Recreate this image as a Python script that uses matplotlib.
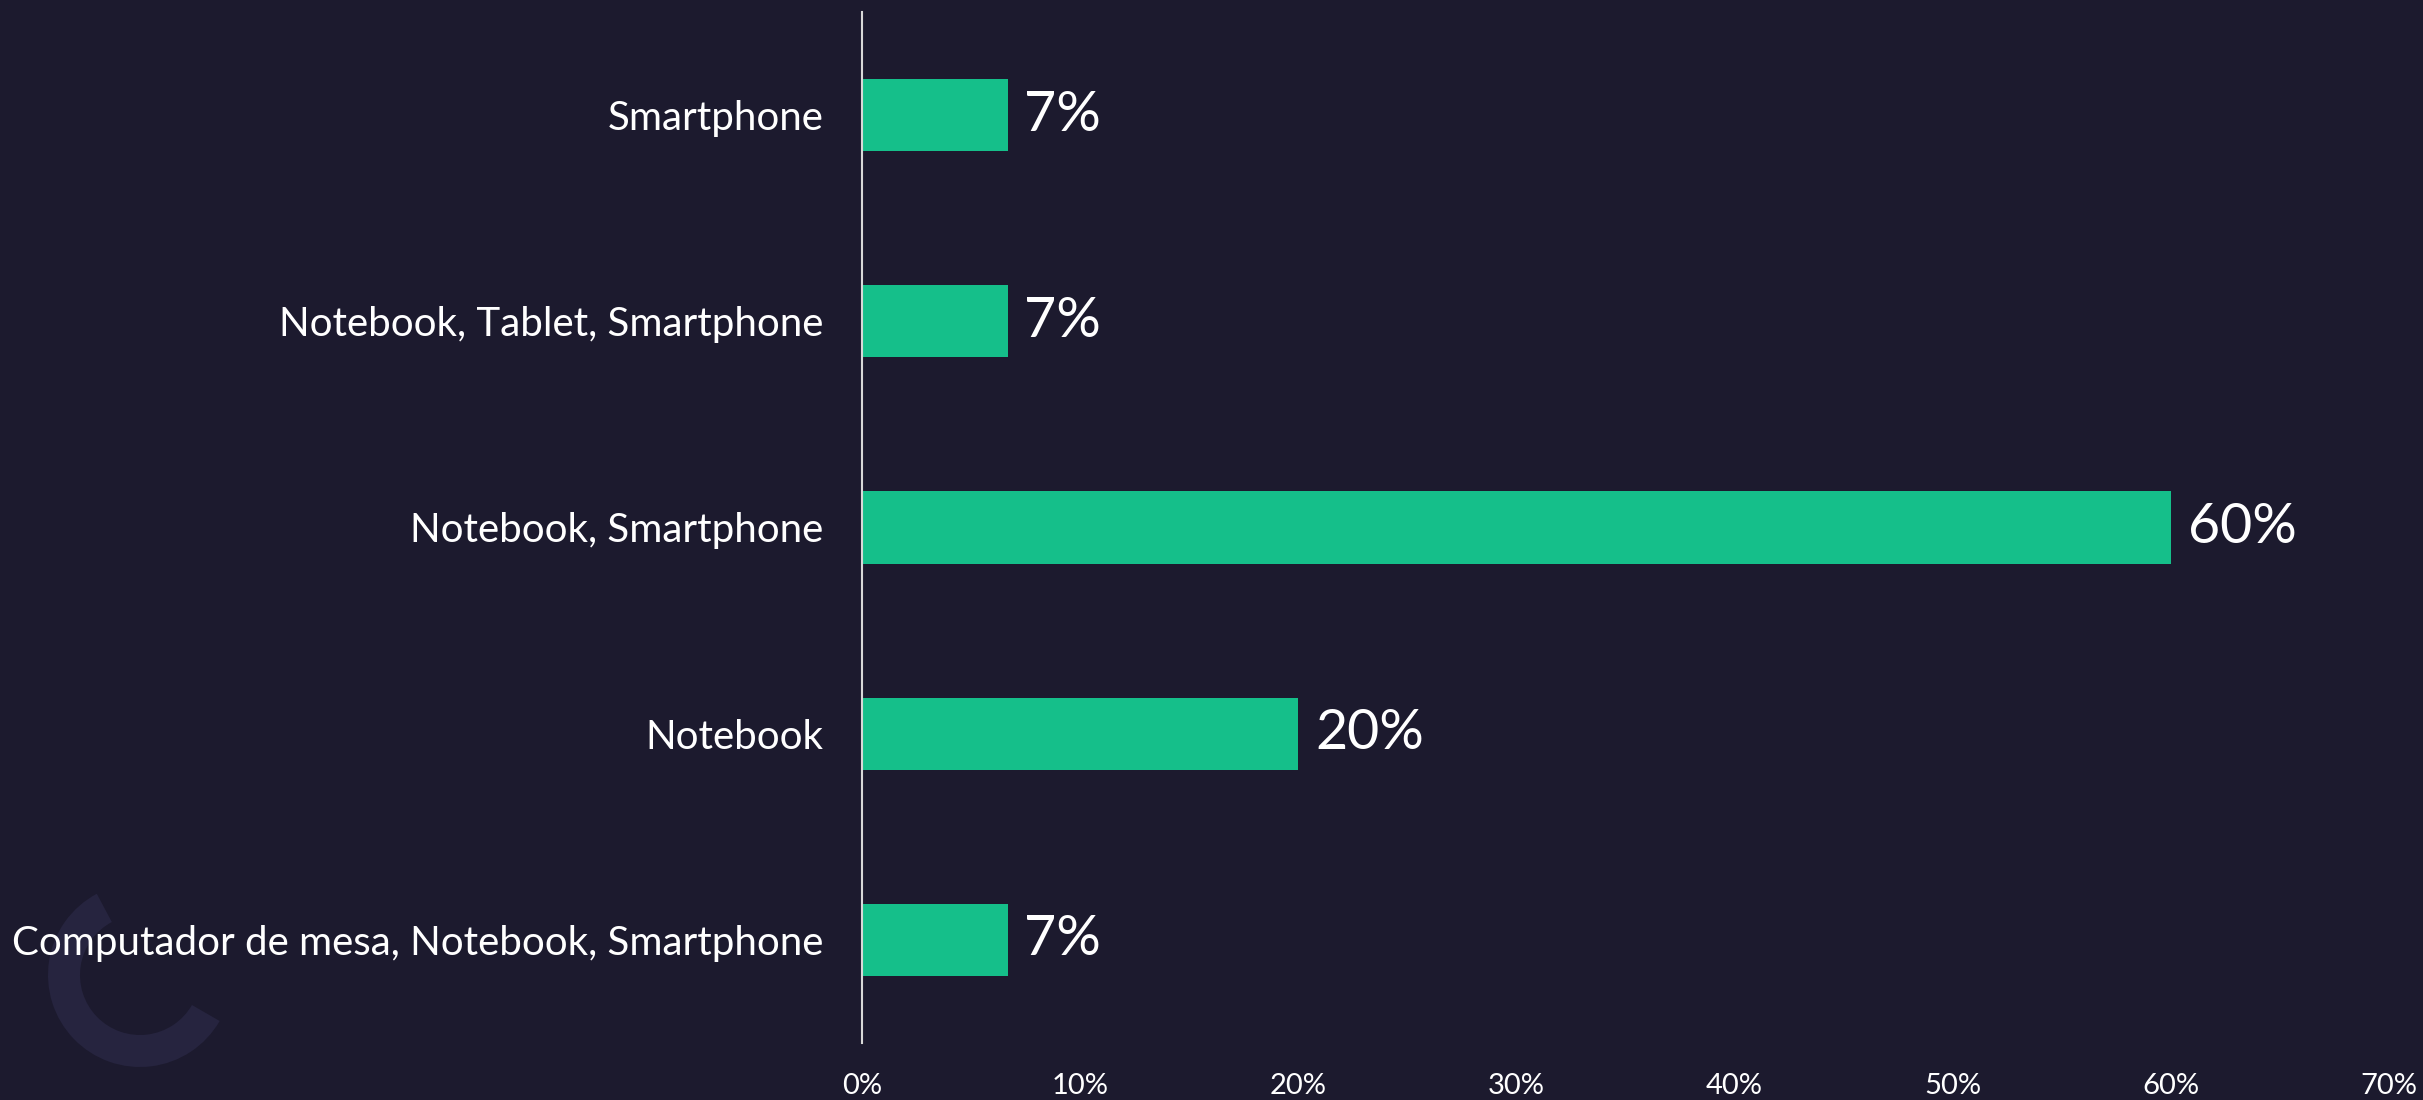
import matplotlib
matplotlib.use("Agg")
import matplotlib.pyplot as plt
from matplotlib.patches import Wedge

categories = ["Smartphone", "Notebook, Tablet, Smartphone", "Notebook, Smartphone",
              "Notebook", "Computador de mesa, Notebook, Smartphone"]
values = [6.67, 6.67, 60, 20, 6.67]
xticks = [0, 10, 20, 30, 40, 50, 60, 70]

BG = "#1c1a2e"
BAR = "#15bf8a"

plt.rcParams['font.family'] = ['Lato', 'DejaVu Sans']

fig = plt.figure(figsize=(24.23, 11.0), dpi=100, facecolor=BG)
ax = fig.add_axes([0.3558, 0.052, 0.6302, 0.937])
ax.set_facecolor(BG)

ypos = list(range(len(categories)))
ax.barh(ypos, values, height=0.35, color=BAR)
ax.set_ylim(len(categories) - 0.5, -0.5)
ax.set_xlim(0, 70)
ax.set_yticks(ypos)
ax.set_yticklabels(categories, fontsize=29, color="white")
ax.set_xticks(xticks)
ax.set_xticklabels([f"{t}%" for t in xticks], fontsize=21, color="white")
ax.tick_params(axis="y", length=0, pad=28)
ax.tick_params(axis="x", length=0, pad=22)
for s in ["top", "right", "bottom"]:
    ax.spines[s].set_visible(False)
ax.spines["left"].set_color("#d8d8d8")
ax.spines["left"].set_linewidth(1.5)

for y, v in zip(ypos, values):
    ax.annotate(f"{round(v)}%", xy=(v, y), xytext=(12, 0), textcoords="offset points",
                va="center", ha="left", fontsize=40, color="white")

# decorative logo arc
w = Wedge((1.40, 1.25), 0.92, 118, 330, width=0.32, transform=fig.dpi_scale_trans,
          facecolor="#26243f", edgecolor="none", zorder=0)
fig.add_artist(w)

fig.savefig("out.png", dpi=100, facecolor=BG)
